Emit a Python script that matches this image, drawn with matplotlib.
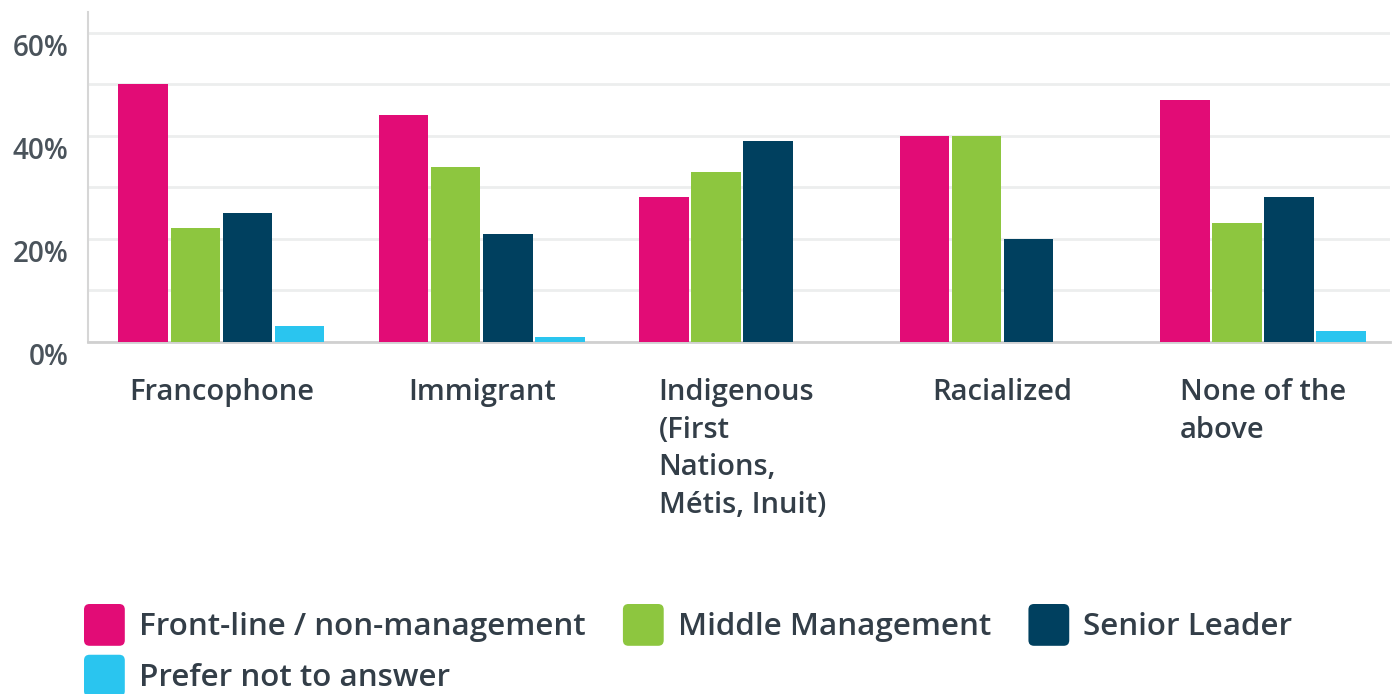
import matplotlib
matplotlib.use('Agg')
import matplotlib.pyplot as plt
import matplotlib.transforms as mtransforms
from matplotlib.patches import FancyBboxPatch, Patch
from matplotlib.legend_handler import HandlerPatch
import numpy as np

# ---------------- data ----------------
categories = ['Francophone', 'Immigrant', 'Indigenous\n(First\nNations,\nMétis, Inuit)',
              'Racialized', 'None of the\nabove']
series_names = ['Front-line / non-management', 'Middle Management', 'Senior Leader',
                'Prefer not to answer']
front_line = [50, 44, 28, 40, 47]
middle_mgmt = [22, 34, 33, 40, 23]
senior_leader = [25, 21, 39, 20, 28]
prefer_not = [3, 1, 0, 0, 2]
y_ticks = [0, 20, 40, 60]
y_tick_labels = ['0%', '20%', '40%', '60%']

colors = ['#e20c76', '#8dc63f', '#00405f', '#2ac5ef']
text_color = '#333e48'
font = 'Open Sans'

fig = plt.figure(figsize=(13.95, 6.94), dpi=100)
ax = fig.add_axes([0.0631, 0.5076, 0.9333, 0.4751])

x = np.arange(len(categories))
width = 0.19
step = 0.2
all_series = [front_line, middle_mgmt, senior_leader, prefer_not]
for i, (vals, col) in enumerate(zip(all_series, colors)):
    ax.bar(x + (i - 1.5) * step + 0.012, vals, width, color=col, zorder=3)

ax.set_xlim(-0.5, len(categories) - 0.5)
ax.set_ylim(0, 64)
ax.set_yticks(y_ticks)
ax.set_yticklabels(y_tick_labels, fontsize=20, color='#4a535b', fontfamily=font, fontweight='semibold')
ax.set_yticks(range(0, 61, 10), minor=True)
ax.grid(True, axis='y', which='both', color='#eceeee', linewidth=2, zorder=0)
ax.tick_params(axis='y', which='both', length=0, pad=14)
ax.set_xticks([])

# tick labels sit a bit below their gridline
offset = mtransforms.ScaledTranslation(0, -12 / 100, fig.dpi_scale_trans)
for lab in ax.get_yticklabels():
    lab.set_transform(lab.get_transform() + offset)

for s in ['top', 'right']:
    ax.spines[s].set_visible(False)
ax.spines['left'].set_color('#d6d6d6')
ax.spines['left'].set_linewidth(1.5)
ax.spines['bottom'].set_color('#d0d0d0')
ax.spines['bottom'].set_linewidth(2)

# category labels under each group
for i, cat in enumerate(categories):
    ax.text(x[i] + 0.012, -0.11, cat, transform=ax.get_xaxis_transform(),
            ha='center', va='top', multialignment='left', linespacing=1.39,
            fontsize=21, color=text_color, fontfamily=font, fontweight='semibold')


# legend with rounded squares
class RoundHandler(HandlerPatch):
    def create_artists(self, legend, orig_handle, xdescent, ydescent, width, height, fontsize, trans):
        p = FancyBboxPatch((-xdescent, -ydescent), width, height,
                           boxstyle='round,pad=0,rounding_size=4',
                           facecolor=orig_handle.get_facecolor(), edgecolor='none',
                           transform=trans)
        return [p]


handles = [Patch(facecolor=c, label=n) for c, n in zip(colors, series_names)]
order = [0, 3, 1, 2]
leg = fig.legend([handles[k] for k in order], [series_names[k] for k in order],
                 ncol=3, loc='upper left', bbox_to_anchor=(84 / 1395, 1 - 604 / 694),
                 frameon=False, borderpad=0, borderaxespad=0,
                 handlelength=1.30, handleheight=1.672, handletextpad=0.44,
                 columnspacing=1.2, labelspacing=0.285,
                 prop={'family': font, 'size': 22.6, 'weight': 'semibold'},
                 handler_map={Patch: RoundHandler()})
for t in leg.get_texts():
    t.set_color(text_color)

fig.savefig('out.png', dpi=100)
